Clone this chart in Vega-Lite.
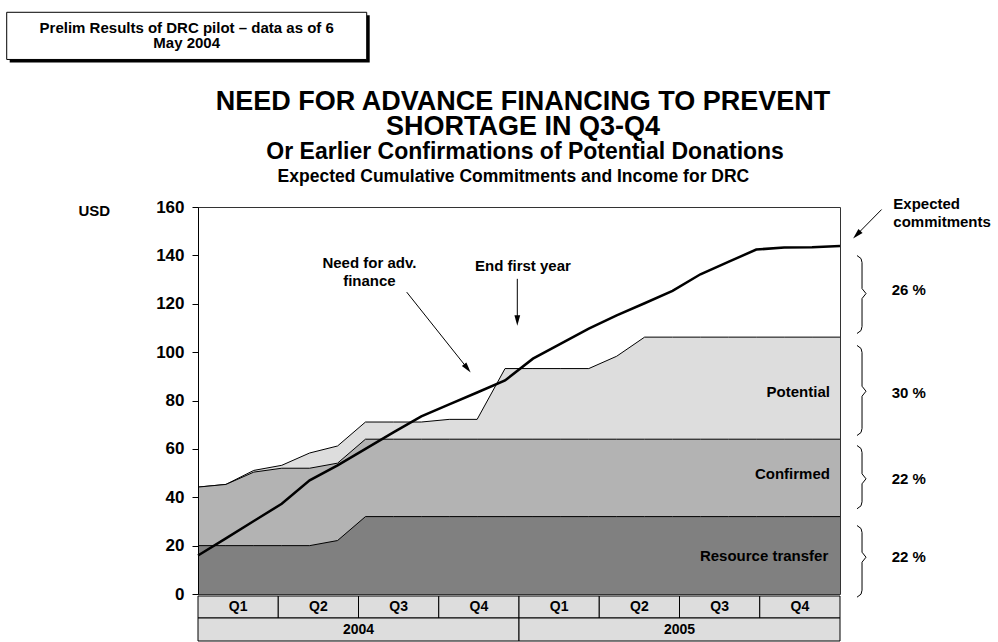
{
  "$schema": "https://vega.github.io/schema/vega-lite/v6.json",
  "width": 642,
  "height": 387,
  "autosize": {"type": "none"},
  "padding": {"left": 198, "top": 207, "right": 158, "bottom": 48},
  "background": "white",
  "config": {
    "font": "Liberation Sans",
    "view": {"stroke": "#333333", "strokeWidth": 1},
    "text": {"font": "Liberation Sans", "fontWeight": "bold", "fontSize": 15, "color": "black"}
  },
  "datasets": {
    "main": [
      {"month": 0, "resource": 20, "confirmed": 44.2, "potential": 44.2, "expected": 15.9},
      {"month": 1, "resource": 20, "confirmed": 45.3, "potential": 45.3, "expected": 23.0},
      {"month": 2, "resource": 20, "confirmed": 50.4, "potential": 51.1, "expected": 30.2},
      {"month": 3, "resource": 20, "confirmed": 52.0, "potential": 53.2, "expected": 37.3},
      {"month": 4, "resource": 20, "confirmed": 52.0, "potential": 58.3, "expected": 47.0},
      {"month": 5, "resource": 22.1, "confirmed": 54.1, "potential": 61.2, "expected": 53.2},
      {"month": 6, "resource": 32, "confirmed": 64, "potential": 71.1, "expected": 60.0},
      {"month": 7, "resource": 32, "confirmed": 64, "potential": 71.1, "expected": 66.8},
      {"month": 8, "resource": 32, "confirmed": 64, "potential": 71.1, "expected": 73.4},
      {"month": 9, "resource": 32, "confirmed": 64, "potential": 72.2, "expected": 78.4},
      {"month": 10, "resource": 32, "confirmed": 64, "potential": 72.2, "expected": 83.3},
      {"month": 11, "resource": 32, "confirmed": 64, "potential": 93.2, "expected": 88.3},
      {"month": 12, "resource": 32, "confirmed": 64, "potential": 93.2, "expected": 97.3},
      {"month": 13, "resource": 32, "confirmed": 64, "potential": 93.2, "expected": 103.5},
      {"month": 14, "resource": 32, "confirmed": 64, "potential": 93.2, "expected": 109.7},
      {"month": 15, "resource": 32, "confirmed": 64, "potential": 98.3, "expected": 115.2},
      {"month": 16, "resource": 32, "confirmed": 64, "potential": 106.2, "expected": 120.2},
      {"month": 17, "resource": 32, "confirmed": 64, "potential": 106.2, "expected": 125.3},
      {"month": 18, "resource": 32, "confirmed": 64, "potential": 106.2, "expected": 132.2},
      {"month": 19, "resource": 32, "confirmed": 64, "potential": 106.2, "expected": 137.3},
      {"month": 20, "resource": 32, "confirmed": 64, "potential": 106.2, "expected": 142.4},
      {"month": 21, "resource": 32, "confirmed": 64, "potential": 106.2, "expected": 143.3},
      {"month": 22, "resource": 32, "confirmed": 64, "potential": 106.2, "expected": 143.4},
      {"month": 23, "resource": 32, "confirmed": 64, "potential": 106.2, "expected": 143.9}
    ],
    "titleLines": [
      {"month": 11.64, "usd": 203.6, "text": "NEED FOR ADVANCE FINANCING TO PREVENT\nSHORTAGE IN Q3-Q4"}
    ],
    "subtitleLines": [
      {"month": 11.72, "usd": 182.7, "text": "Or Earlier Confirmations of Potential Donations"}
    ],
    "heading": [
      {"month": 11.3, "usd": 172.2, "text": "Expected Cumulative Commitments and Income for DRC"}
    ],
    "centerNotes": [
      {"month": 6.14, "usd": 137.0, "text": "Need for adv."},
      {"month": 6.14, "usd": 129.6, "text": "finance"},
      {"month": 11.64, "usd": 135.8, "text": "End first year"},
      {"month": -0.405, "usd": 234.2, "text": "Prelim Results of DRC pilot – data as of 6"},
      {"month": -0.405, "usd": 227.6, "text": "May 2004"}
    ],
    "leftNotes": [
      {"month": 24.91, "usd": 161.3, "text": "Expected"},
      {"month": 24.91, "usd": 153.7, "text": "commitments"},
      {"month": 24.85, "usd": 125.5, "text": "26 %"},
      {"month": 24.85, "usd": 82.9, "text": "30 %"},
      {"month": 24.85, "usd": 47.7, "text": "22 %"},
      {"month": 24.85, "usd": 15.2, "text": "22 %"}
    ],
    "seriesLabels": [
      {"month": 22.64, "usd": 83.4, "text": "Potential"},
      {"month": 22.64, "usd": 49.7, "text": "Confirmed"},
      {"month": 22.58, "usd": 15.9, "text": "Resource transfer"}
    ],
    "box": [
      {"x1": -6.853, "x2": 6.044, "y1": 240.5, "y2": 221.0}
    ],
    "arrows": [
      {"arrow": "need", "x1": 7.477, "y1": 124.8, "x2": 9.651, "y2": 93.3},
      {"arrow": "year", "x1": 11.439, "y1": 130.3, "x2": 11.439, "y2": 113.1},
      {"arrow": "expected", "x1": 24.49, "y1": 158.95, "x2": 23.602, "y2": 148.55}
    ],
    "braces": [
      {"brace": "A", "seq": 1, "month": 23.609, "usd": 139.93},
      {"brace": "A", "seq": 2, "month": 23.753, "usd": 138.69},
      {"brace": "A", "seq": 3, "month": 23.789, "usd": 137.04},
      {"brace": "A", "seq": 4, "month": 23.789, "usd": 126.29},
      {"brace": "A", "seq": 5, "month": 23.932, "usd": 124.22},
      {"brace": "A", "seq": 6, "month": 23.789, "usd": 122.15},
      {"brace": "A", "seq": 7, "month": 23.789, "usd": 110.58},
      {"brace": "A", "seq": 8, "month": 23.753, "usd": 108.93},
      {"brace": "A", "seq": 9, "month": 23.609, "usd": 107.69},
      {"brace": "B", "seq": 1, "month": 23.609, "usd": 102.77},
      {"brace": "B", "seq": 2, "month": 23.753, "usd": 101.53},
      {"brace": "B", "seq": 3, "month": 23.789, "usd": 99.88},
      {"brace": "B", "seq": 4, "month": 23.789, "usd": 85.9},
      {"brace": "B", "seq": 5, "month": 23.932, "usd": 83.84},
      {"brace": "B", "seq": 6, "month": 23.789, "usd": 81.77},
      {"brace": "B", "seq": 7, "month": 23.789, "usd": 68.42},
      {"brace": "B", "seq": 8, "month": 23.753, "usd": 66.76},
      {"brace": "B", "seq": 9, "month": 23.609, "usd": 65.52},
      {"brace": "C", "seq": 1, "month": 23.609, "usd": 61.39},
      {"brace": "C", "seq": 2, "month": 23.753, "usd": 60.15},
      {"brace": "C", "seq": 3, "month": 23.789, "usd": 58.5},
      {"brace": "C", "seq": 4, "month": 23.789, "usd": 49.69},
      {"brace": "C", "seq": 5, "month": 23.932, "usd": 47.62},
      {"brace": "C", "seq": 6, "month": 23.789, "usd": 45.56},
      {"brace": "C", "seq": 7, "month": 23.789, "usd": 38.12},
      {"brace": "C", "seq": 8, "month": 23.753, "usd": 36.46},
      {"brace": "C", "seq": 9, "month": 23.609, "usd": 35.22},
      {"brace": "D", "seq": 1, "month": 23.609, "usd": 28.32},
      {"brace": "D", "seq": 2, "month": 23.753, "usd": 27.08},
      {"brace": "D", "seq": 3, "month": 23.789, "usd": 25.42},
      {"brace": "D", "seq": 4, "month": 23.789, "usd": 17.28},
      {"brace": "D", "seq": 5, "month": 23.932, "usd": 15.21},
      {"brace": "D", "seq": 6, "month": 23.789, "usd": 13.15},
      {"brace": "D", "seq": 7, "month": 23.789, "usd": 1.57},
      {"brace": "D", "seq": 8, "month": 23.753, "usd": -0.08},
      {"brace": "D", "seq": 9, "month": 23.609, "usd": -1.32}
    ],
    "quarters": [
      {"period": "2004 Q1", "label": "Q1", "row": "Quarter"},
      {"period": "2004 Q2", "label": "Q2", "row": "Quarter"},
      {"period": "2004 Q3", "label": "Q3", "row": "Quarter"},
      {"period": "2004 Q4", "label": "Q4", "row": "Quarter"},
      {"period": "2005 Q1", "label": "Q1", "row": "Quarter"},
      {"period": "2005 Q2", "label": "Q2", "row": "Quarter"},
      {"period": "2005 Q3", "label": "Q3", "row": "Quarter"},
      {"period": "2005 Q4", "label": "Q4", "row": "Quarter"}
    ],
    "years": [
      {"year": "2004", "row": "Year"},
      {"year": "2005", "row": "Year"}
    ]
  },
  "layer": [
    {
      "layer": [
        {
          "data": {"name": "main"},
          "mark": {"type": "area", "color": "#dddddd", "opacity": 1, "line": {"color": "black", "strokeWidth": 1}},
          "encoding": {
            "x": {"field": "month", "type": "quantitative", "scale": {"domain": [0, 23], "nice": false, "zero": false}, "axis": null},
            "y": {
              "field": "potential", "type": "quantitative",
              "scale": {"domain": [0, 160], "nice": false},
              "axis": {
                "title": "USD", "titleAngle": 0, "titleX": -120, "titleY": 3, "titleAlign": "left", "titleBaseline": "middle",
                "titleFontSize": 15, "titleFontWeight": "bold", "titleColor": "black", "titleFont": "Liberation Sans",
                "values": [0, 20, 40, 60, 80, 100, 120, 140, 160],
                "labelFontSize": 17, "labelFontWeight": "bold", "labelColor": "black", "labelFont": "Liberation Sans",
                "tickColor": "black", "tickSize": 6, "labelPadding": 8, "domainColor": "black", "grid": false, "zindex": 1
              }
            }
          }
        },
        {
          "data": {"name": "main"},
          "mark": {"type": "area", "color": "#b3b3b3", "opacity": 1, "line": {"color": "black", "strokeWidth": 1}},
          "encoding": {
            "x": {"field": "month", "type": "quantitative"},
            "y": {"field": "confirmed", "type": "quantitative"}
          }
        },
        {
          "data": {"name": "main"},
          "mark": {"type": "area", "color": "#808080", "opacity": 1, "line": {"color": "black", "strokeWidth": 1}},
          "encoding": {
            "x": {"field": "month", "type": "quantitative"},
            "y": {"field": "resource", "type": "quantitative"}
          }
        },
        {
          "data": {"name": "main"},
          "mark": {"type": "line", "color": "black", "strokeWidth": 2.5},
          "encoding": {
            "x": {"field": "month", "type": "quantitative"},
            "y": {"field": "expected", "type": "quantitative"}
          }
        },
        {
          "data": {"name": "seriesLabels"},
          "mark": {"type": "text", "align": "right", "baseline": "middle"},
          "encoding": {
            "x": {"field": "month", "type": "quantitative"},
            "y": {"field": "usd", "type": "quantitative"},
            "text": {"field": "text"}
          }
        },
        {
          "data": {"name": "box"},
          "mark": {"type": "rect", "color": "black", "opacity": 1, "xOffset": 3, "x2Offset": 3, "yOffset": 3, "y2Offset": 3},
          "encoding": {
            "x": {"field": "x1", "type": "quantitative"}, "x2": {"field": "x2"},
            "y": {"field": "y1", "type": "quantitative"}, "y2": {"field": "y2"}
          }
        },
        {
          "data": {"name": "box"},
          "mark": {"type": "rect", "fill": "white", "opacity": 1, "stroke": "black", "strokeWidth": 1},
          "encoding": {
            "x": {"field": "x1", "type": "quantitative"}, "x2": {"field": "x2"},
            "y": {"field": "y1", "type": "quantitative"}, "y2": {"field": "y2"}
          }
        },
        {
          "data": {"name": "titleLines"},
          "mark": {"type": "text", "align": "center", "baseline": "middle", "fontSize": 27, "lineBreak": "\n", "lineHeight": 25},
          "encoding": {
            "x": {"field": "month", "type": "quantitative"},
            "y": {"field": "usd", "type": "quantitative"},
            "text": {"field": "text"}
          }
        },
        {
          "data": {"name": "subtitleLines"},
          "mark": {"type": "text", "align": "center", "baseline": "middle", "fontSize": 23},
          "encoding": {
            "x": {"field": "month", "type": "quantitative"},
            "y": {"field": "usd", "type": "quantitative"},
            "text": {"field": "text"}
          }
        },
        {
          "data": {"name": "heading"},
          "mark": {"type": "text", "align": "center", "baseline": "middle", "fontSize": 17.5},
          "encoding": {
            "x": {"field": "month", "type": "quantitative"},
            "y": {"field": "usd", "type": "quantitative"},
            "text": {"field": "text"}
          }
        },
        {
          "data": {"name": "centerNotes"},
          "mark": {"type": "text", "align": "center", "baseline": "middle"},
          "encoding": {
            "x": {"field": "month", "type": "quantitative"},
            "y": {"field": "usd", "type": "quantitative"},
            "text": {"field": "text"}
          }
        },
        {
          "data": {"name": "leftNotes"},
          "mark": {"type": "text", "align": "left", "baseline": "middle"},
          "encoding": {
            "x": {"field": "month", "type": "quantitative"},
            "y": {"field": "usd", "type": "quantitative"},
            "text": {"field": "text"}
          }
        },
        {
          "data": {"name": "arrows"},
          "mark": {"type": "rule", "color": "black", "strokeWidth": 1},
          "encoding": {
            "x": {"field": "x1", "type": "quantitative"}, "x2": {"field": "x2"},
            "y": {"field": "y1", "type": "quantitative"}, "y2": {"field": "y2"}
          }
        },
        {
          "data": {"name": "arrows"},
          "transform": [{"filter": "datum.arrow == 'need'"}],
          "mark": {"type": "point", "shape": "M0,-1L0.55,1L-0.55,1Z", "filled": true, "color": "black", "size": 110, "angle": 141.3, "opacity": 1},
          "encoding": {
            "x": {"field": "x2", "type": "quantitative"},
            "y": {"field": "y2", "type": "quantitative"}
          }
        },
        {
          "data": {"name": "arrows"},
          "transform": [{"filter": "datum.arrow == 'year'"}],
          "mark": {"type": "point", "shape": "M0,-1L0.55,1L-0.55,1Z", "filled": true, "color": "black", "size": 110, "angle": 180, "opacity": 1},
          "encoding": {
            "x": {"field": "x2", "type": "quantitative"},
            "y": {"field": "y2", "type": "quantitative"}
          }
        },
        {
          "data": {"name": "arrows"},
          "transform": [{"filter": "datum.arrow == 'expected'"}],
          "mark": {"type": "point", "shape": "M0,-1L0.55,1L-0.55,1Z", "filled": true, "color": "black", "size": 110, "angle": 224.7, "opacity": 1},
          "encoding": {
            "x": {"field": "x2", "type": "quantitative"},
            "y": {"field": "y2", "type": "quantitative"}
          }
        },
        {
          "data": {"name": "braces"},
          "mark": {"type": "line", "color": "black", "strokeWidth": 1},
          "encoding": {
            "x": {"field": "month", "type": "quantitative"},
            "y": {"field": "usd", "type": "quantitative"},
            "detail": {"field": "brace"},
            "order": {"field": "seq"}
          }
        }
      ]
    },
    {
      "layer": [
        {
          "data": {"name": "quarters"},
          "encoding": {
            "x": {"field": "period", "type": "nominal", "sort": null, "scale": {"paddingInner": 0, "paddingOuter": 0}, "axis": null},
            "y": {"field": "row", "type": "nominal", "scale": {"range": [389, 411], "paddingInner": 0, "paddingOuter": 0}, "axis": null}
          },
          "layer": [
            {"mark": {"type": "rect", "fill": "#dddddd", "opacity": 1, "stroke": "black", "strokeWidth": 1}},
            {"mark": {"type": "text", "fontSize": 14, "baseline": "middle"}, "encoding": {"text": {"field": "label"}}}
          ]
        },
        {
          "data": {"name": "years"},
          "encoding": {
            "x": {"field": "year", "type": "nominal", "sort": null, "scale": {"paddingInner": 0, "paddingOuter": 0}, "axis": null},
            "y": {"field": "row", "type": "nominal", "scale": {"range": [411, 434], "paddingInner": 0, "paddingOuter": 0}, "axis": null}
          },
          "layer": [
            {"mark": {"type": "rect", "fill": "#dddddd", "opacity": 1, "stroke": "black", "strokeWidth": 1}},
            {"mark": {"type": "text", "fontSize": 14, "baseline": "middle"}, "encoding": {"text": {"field": "year"}}}
          ]
        }
      ],
      "resolve": {"scale": {"x": "independent", "y": "independent"}}
    }
  ],
  "resolve": {"scale": {"x": "independent", "y": "independent"}}
}
